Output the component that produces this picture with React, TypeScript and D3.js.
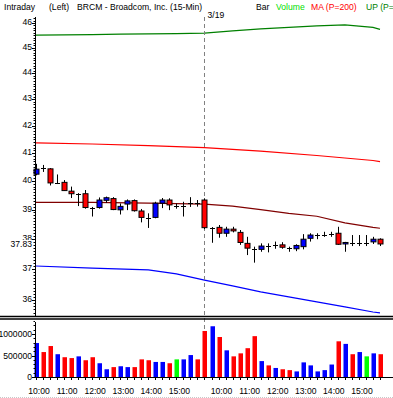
import React from 'react';
import * as d3 from 'd3';

const W = 393;
const H = 398;
const FONT = '"Liberation Sans", Arial, sans-serif';

// 15-min bars, two sessions (3/18 partial, 3/19 full)
const barTimes = [
  '10:00', '10:15', '10:30', '10:45', '11:00', '11:15', '11:30', '11:45',
  '12:00', '12:15', '12:30', '12:45', '13:00', '13:15', '13:30', '13:45',
  '14:00', '14:15', '14:30', '14:45', '15:00', '15:15', '15:30', '15:45',
  '9:30', '9:45', '10:00', '10:15', '10:30', '10:45', '11:00', '11:15',
  '11:30', '11:45', '12:00', '12:15', '12:30', '12:45', '13:00', '13:15',
  '13:30', '13:45', '14:00', '14:15', '14:30', '14:45', '15:00', '15:15',
  '15:30', '15:45',
];
const dayBreaks = [{ bar: 24, label: '3/19' }];

// open, high, low, close
const candles: [number, number, number, number][] = [
  [40.24, 40.61, 40.2, 40.42], [40.46, 40.57, 40.32, 40.45], [40.43, 40.46, 39.84, 39.93],
  [39.92, 40.23, 39.89, 39.93], [39.95, 40.03, 39.65, 39.66], [39.64, 39.8, 39.4, 39.55],
  [39.53, 39.57, 39.12, 39.54], [39.55, 39.68, 39.03, 39.07], [39.08, 39.09, 38.76, 39.07],
  [39.07, 39.42, 39.03, 39.33], [39.32, 39.45, 39.23, 39.41], [39.38, 39.43, 38.98, 39.0],
  [38.99, 39.21, 38.83, 39.11], [39.19, 39.35, 38.98, 39.3], [39.31, 39.35, 38.93, 38.96],
  [38.95, 39.02, 38.56, 38.73], [38.71, 38.87, 38.37, 38.7], [38.73, 39.27, 38.7, 39.22],
  [39.22, 39.4, 39.05, 39.33], [39.33, 39.39, 38.98, 39.16], [39.13, 39.21, 39.03, 39.13],
  [39.12, 39.27, 38.76, 39.13], [39.2, 39.43, 39.09, 39.21], [39.23, 39.33, 39.1, 39.22],
  [39.33, 39.39, 38.33, 38.38], [38.37, 38.4, 37.87, 38.38], [38.39, 38.47, 38.04, 38.19],
  [38.19, 38.41, 38.07, 38.33], [38.33, 38.41, 38.22, 38.27], [38.22, 38.3, 37.8, 37.88],
  [37.85, 38.07, 37.46, 37.69], [37.66, 37.74, 37.21, 37.65], [37.65, 37.85, 37.57, 37.76],
  [37.77, 37.85, 37.55, 37.76], [37.79, 37.91, 37.67, 37.8], [37.8, 37.89, 37.67, 37.72],
  [37.7, 37.74, 37.57, 37.69], [37.67, 37.82, 37.59, 37.78], [37.74, 38.16, 37.65, 37.99],
  [38.02, 38.19, 37.91, 38.13], [38.12, 38.19, 37.99, 38.13], [38.13, 38.24, 38.07, 38.14],
  [38.15, 38.24, 38.07, 38.16], [38.19, 38.41, 37.8, 37.82], [37.83, 37.9, 37.57, 37.88],
  [37.88, 38.13, 37.76, 37.87], [37.86, 38.13, 37.76, 37.87], [37.87, 38.13, 37.76, 37.87],
  [37.9, 38.07, 37.83, 37.99], [37.99, 38.02, 37.76, 37.83],
];

const volumes = [
  790000, 580000, 720000, 530000, 460000, 440000, 480000, 390000, 460000, 320000,
  180000, 230000, 250000, 230000, 230000, 410000, 390000, 350000, 350000, 320000,
  410000, 410000, 510000, 410000, 1070000, 1180000, 930000, 620000, 480000, 550000,
  670000, 950000, 370000, 270000, 210000, 180000, 160000, 130000, 340000, 270000,
  130000, 160000, 290000, 830000, 770000, 530000, 580000, 480000, 550000, 530000,
];

// indicator lines, [bar, value]
const upBand: [number, number][] = [
  [0, 45.51], [4, 45.52], [8, 45.53], [12, 45.55], [16, 45.56], [20, 45.57], [24, 45.59],
  [28, 45.68], [32, 45.76], [36, 45.82], [40, 45.88], [44, 45.92], [48, 45.82], [49, 45.74],
];
const maLine: [number, number][] = [
  [0, 41.37], [8, 41.33], [16, 41.27], [24, 41.2], [32, 41.07], [40, 40.91], [44, 40.82],
  [48, 40.73], [49, 40.69],
];
const midLine: [number, number][] = [
  [0, 39.25], [8, 39.25], [16, 39.22], [24, 39.19], [28, 39.12], [32, 39.0], [36, 38.87],
  [40, 38.77], [44, 38.54], [48, 38.39], [49, 38.36],
];
const dnBand: [number, number][] = [
  [0, 37.1], [8, 37.03], [16, 36.97], [20, 36.84], [24, 36.64], [28, 36.45], [32, 36.26],
  [36, 36.1], [40, 35.94], [44, 35.78], [48, 35.62], [49, 35.59],
];

const priceTicks = [36, 37, 38, 39, 40, 41, 42, 43, 44, 45, 46];
const lastPrice = 37.83;
const volumeTicks = [0, 500000, 1000000];

const legend = [
  { text: 'Intraday', x: 4, color: '#000' },
  { text: '(Left)', x: 49, color: '#000' },
  { text: 'BRCM - Broadcom, Inc.  (15-Min)', x: 77, color: '#000' },
  { text: 'Bar', x: 256, color: '#000' },
  { text: 'Volume', x: 276, color: '#00e000' },
  { text: 'MA (P=200)', x: 311, color: '#ff0000' },
  { text: 'UP (P=20)', x: 366, color: '#008000' },
];

const UP = '#0000ff';
const DOWN = '#ff0000';
const FLAT = '#00ff00';

export default function App() {
  const x = d3.scaleLinear().domain([0, candles.length - 1]).range([36, 380]);
  const y = d3.scaleLog().domain([36, 46]).range([300, 23]);
  const yv = d3.scaleLinear().domain([0, 1000000]).range([377, 334]);

  const axisX = 35;
  const mainTop = 17;
  const mainBottom = 316;
  const volTop = 322;
  const volBottom = yv(0);

  const line = d3.line<[number, number]>()
    .x(d => x(d[0]))
    .y(d => y(d[1]));

  const minorPrice = d3.range(355, 463).map(v => v / 10).filter(v => y(v) > mainTop && y(v) < mainBottom);
  const minorVol = d3.range(0, 14).map(v => v * 100000);

  const hourBars = barTimes.map((t, i) => ({ t, i })).filter(d => d.t.endsWith(':00'));

  const dirColor = (c: [number, number, number, number]) =>
    c[3] > c[0] ? UP : c[3] < c[0] ? DOWN : FLAT;

  return (
    <svg width={W} height={H} style={{ position: 'absolute', left: 0, top: 0, background: '#fff' }}
      fontFamily={FONT}>
      <rect width={W} height={H} fill="#fff" />

      {/* header */}
      {legend.map(l => (
        <text key={l.text} x={l.x} y={9.5} fontSize={8.6} fill={l.color}>{l.text}</text>
      ))}
      {dayBreaks.map(b => (
        <text key={b.label} x={x(b.bar) + 3} y={18} fontSize={8.6} fill="#000">{b.label}</text>
      ))}

      {/* indicator lines */}
      <path d={line(upBand) || ''} fill="none" stroke="#008000" strokeWidth={1.2} />
      <path d={line(maLine) || ''} fill="none" stroke="#ff0000" strokeWidth={1.2} />
      <path d={line(midLine) || ''} fill="none" stroke="#800000" strokeWidth={1.2} />
      <path d={line(dnBand) || ''} fill="none" stroke="#0000ff" strokeWidth={1.2} />

      {/* day separator */}
      {dayBreaks.map(b => (
        <line key={'sep' + b.label} x1={x(b.bar)} x2={x(b.bar)} y1={mainTop} y2={volBottom}
          stroke="#808080" strokeDasharray="4,3" />
      ))}

      {/* candles */}
      {candles.map((c, i) => {
        const cx = Math.round(x(i)) + 0.5;
        const yo = y(c[0]);
        const yc = y(c[3]);
        const top = Math.min(yo, yc);
        const h = Math.abs(yo - yc);
        return (
          <g key={'c' + i}>
            <line x1={cx} x2={cx} y1={y(c[1])} y2={y(c[2])} stroke="#000" />
            {h < 1.2 ? (
              <line x1={cx - 2.5} x2={cx + 2.5} y1={Math.round(yc) + 0.5} y2={Math.round(yc) + 0.5} stroke="#000" />
            ) : (
              <rect x={cx - 2.5} y={top} width={5} height={h} fill={dirColor(c)} stroke="#000" />
            )}
          </g>
        );
      })}

      {/* price axis */}
      <line x1={axisX + 0.5} x2={axisX + 0.5} y1={mainTop} y2={mainBottom} stroke="#000" />
      {minorPrice.map(v => (
        <line key={'mp' + v} x1={axisX - 1.5} x2={axisX} y1={Math.round(y(v)) + 0.5} y2={Math.round(y(v)) + 0.5}
          stroke="#000" />
      ))}
      {priceTicks.map(v => (
        <g key={'pt' + v}>
          <line x1={axisX - 3} x2={axisX} y1={Math.round(y(v)) + 0.5} y2={Math.round(y(v)) + 0.5} stroke="#000" />
          <text x={axisX - 3} y={y(v) - 1} dy="0.35em" textAnchor="end" fontSize={8.6} fill="#000">{v}</text>
        </g>
      ))}
      <rect x={axisX - 26} y={y(lastPrice) - 4} width={23} height={8} fill="#fff" />
      <text x={axisX - 3} y={y(lastPrice)} dy="0.35em" textAnchor="end" fontSize={8.6} fill="#000">
        {lastPrice.toFixed(2)}
      </text>

      {/* panel separator */}
      <line x1={0} x2={W} y1={mainBottom + 0.5} y2={mainBottom + 0.5} stroke="#000" strokeWidth={1.3} />
      <line x1={0} x2={W} y1={mainBottom + 3} y2={mainBottom + 3} stroke="#000" strokeWidth={1.3} />

      {/* volume */}
      {volumes.map((v, i) => (
        <rect key={'v' + i} x={Math.round(x(i)) - 1.5} y={yv(v)} width={4.5} height={volBottom - yv(v)}
          fill={dirColor(candles[i])} />
      ))}
      <line x1={axisX + 0.5} x2={axisX + 0.5} y1={volTop} y2={volBottom} stroke="#000" />
      <line x1={axisX} x2={W} y1={volBottom + 0.5} y2={volBottom + 0.5} stroke="#000" />
      {minorVol.map(v => (
        <line key={'mv' + v} x1={axisX - 1.5} x2={axisX} y1={Math.round(yv(v)) + 0.5} y2={Math.round(yv(v)) + 0.5}
          stroke="#000" />
      ))}
      {volumeTicks.map(v => (
        <g key={'vt' + v}>
          <line x1={axisX - 3} x2={axisX} y1={Math.round(yv(v)) + 0.5} y2={Math.round(yv(v)) + 0.5} stroke="#000" />
          <text x={axisX - 3} y={yv(v)} dy="0.35em" textAnchor="end" fontSize={8.6} fill="#000">{v}</text>
        </g>
      ))}

      {/* time axis */}
      {barTimes.map((t, i) => (
        <line key={'bt' + i} x1={Math.round(x(i)) + 0.5} x2={Math.round(x(i)) + 0.5} y1={volBottom}
          y2={volBottom + 3} stroke="#000" />
      ))}
      {hourBars.map(d => (
        <text key={'ht' + d.i} x={x(d.i) + 3} y={394} textAnchor="middle" fontSize={8.6} fill="#000">{d.t}</text>
      ))}
      <line x1={0} x2={W} y1={397.5} y2={397.5} stroke="#c8c8c8" strokeDasharray="1,1" />
    </svg>
  );
}
